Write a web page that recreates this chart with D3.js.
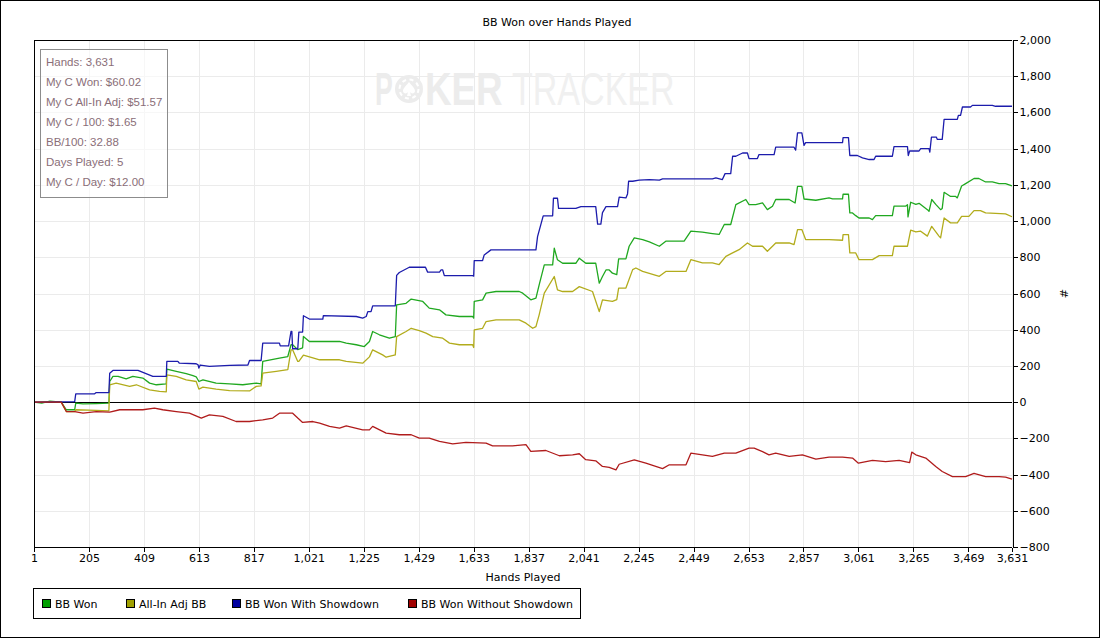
<!DOCTYPE html>
<html>
<head>
<meta charset="utf-8">
<script src="https://cdn.jsdelivr.net/npm/d3@7"></script>
<style>
  body { margin: 0; background: #fff; }
  svg text { font-family: 'DejaVu Sans', sans-serif; font-size: 11px; fill: #000; }
  .stats text { font-family: 'Liberation Sans', Arial, sans-serif; font-size: 11.5px; fill: #8a6e78; }
  .wm text { font-family: 'Liberation Sans', Arial, sans-serif; font-size: 46px; }
</style>
</head>
<body>
<div id="chart"></div>
<script>
// tick values for both axes
const xTicks = [1, 205, 409, 613, 817, 1021, 1225, 1429, 1633, 1837, 2041, 2245, 2449, 2653, 2857, 3061, 3265, 3469, 3631];
const yTicks = [-800, -600, -400, -200, 0, 200, 400, 600, 800, 1000, 1200, 1400, 1600, 1800, 2000];

const seriesNames = ['BB Won', 'All-In Adj BB', 'BB Won With Showdown', 'BB Won Without Showdown'];

const statLines = [
  'Hands: 3,631',
  'My C Won: $60.02',
  'My C All-In Adj: $51.57',
  'My C / 100: $1.65',
  'BB/100: 32.88',
  'Days Played: 5',
  'My C / Day: $12.00'
];

// [hand, bb]
const bbWon = [
  [1,0],[30,-5],[60,5],[102,0],[121,-42],[152,-42],[156,-5],[183,-10],[232,-8],[279,-5],[282,114],[294,142],[313,142],
  [343,128],[368,142],[405,133],[430,105],[455,96],[492,101],[494,182],[529,170],[566,157],[591,146],[603,140],[613,114],
  [628,123],[677,105],[727,101],[776,96],[826,105],[844,101],[850,225],[912,243],[943,252],[955,317],[961,317],[980,290],
  [998,300],[1001,363],[1023,335],[1073,335],[1135,335],[1160,326],[1197,317],[1227,307],[1246,335],[1258,390],[1283,372],
  [1320,353],[1342,362],[1347,537],[1382,546],[1401,569],[1444,556],[1468,519],[1506,510],[1530,482],[1580,473],[1629,473],
  [1633,464],[1635,556],[1666,565],[1679,602],[1716,611],[1802,611],[1815,602],[1845,565],[1864,574],[1876,648],[1895,758],
  [1926,758],[1932,850],[1944,786],[1963,767],[2012,767],[2025,795],[2049,767],[2086,767],[2099,657],[2111,694],[2124,730],
  [2136,730],[2148,712],[2164,704],[2171,791],[2198,791],[2210,861],[2229,907],[2260,898],[2285,885],[2322,861],[2346,889],
  [2414,889],[2439,944],[2482,939],[2519,931],[2544,926],[2563,981],[2587,981],[2606,1091],[2643,1119],[2655,1091],
  [2680,1091],[2705,1100],[2723,1063],[2742,1082],[2754,1119],[2804,1119],[2826,1100],[2835,1192],[2851,1192],[2859,1122],
  [2903,1115],[2952,1128],[2965,1123],[3002,1123],[3004,1148],[3024,1148],[3029,1045],[3039,1045],[3051,1030],[3063,1017],
  [3101,1017],[3113,1008],[3125,1030],[3187,1030],[3193,1083],[3237,1083],[3243,1090],[3245,1023],[3255,1104],[3274,1092],
  [3286,1098],[3317,1063],[3323,1054],[3333,1119],[3348,1092],[3366,1063],[3372,1070],[3379,1159],[3403,1136],[3422,1136],
  [3428,1128],[3444,1194],[3459,1207],[3490,1235],[3508,1235],[3533,1216],[3558,1216],[3583,1207],[3607,1207],[3631,1194]
];

const allInAdj = [
  [1,0],[60,3],[102,0],[121,-52],[152,-52],[156,-42],[232,-45],[279,-48],[282,96],[306,105],[356,87],[381,96],[430,68],
  [467,59],[492,57],[494,151],[529,142],[566,123],[603,114],[613,72],[628,83],[677,72],[727,64],[801,62],[826,87],[844,90],
  [850,160],[900,170],[943,179],[955,289],[961,289],[980,225],[984,225],[1001,260],[1036,245],[1061,234],[1135,234],
  [1160,225],[1221,215],[1246,250],[1258,289],[1295,261],[1308,248],[1342,261],[1347,362],[1382,390],[1401,408],[1431,395],
  [1456,381],[1481,362],[1518,353],[1543,326],[1580,317],[1629,317],[1633,302],[1635,399],[1666,408],[1679,445],[1716,454],
  [1802,454],[1827,436],[1852,408],[1864,417],[1876,482],[1895,602],[1932,694],[1944,620],[1963,611],[2000,611],[2025,638],
  [2074,611],[2099,500],[2111,565],[2148,556],[2164,566],[2171,630],[2198,630],[2223,732],[2235,741],[2260,722],[2322,695],
  [2346,722],[2421,722],[2439,787],[2482,769],[2519,769],[2544,760],[2569,805],[2594,824],[2618,842],[2649,879],[2668,861],
  [2705,861],[2723,833],[2742,861],[2754,879],[2804,879],[2822,870],[2835,953],[2851,953],[2865,898],[2952,898],[3002,894],
  [3004,925],[3024,925],[3029,824],[3051,824],[3063,787],[3113,787],[3138,809],[3187,809],[3193,861],[3243,861],[3255,950],
  [3274,940],[3292,944],[3317,917],[3333,971],[3360,917],[3366,907],[3379,1017],[3403,990],[3428,990],[3444,1026],
  [3471,1026],[3490,1058],[3514,1058],[3533,1045],[3607,1040],[3631,1024]
];

const withShowdown = [
  [1,0],[100,2],[152,3],[156,46],[226,46],[232,53],[279,53],[282,160],[294,175],[387,175],[442,142],[492,142],[494,225],
  [535,225],[540,216],[603,212],[610,206],[613,188],[618,205],[652,197],[727,203],[795,205],[801,230],[844,230],[850,326],
  [912,326],[915,311],[946,311],[955,391],[958,391],[961,295],[980,295],[984,387],[998,387],[1001,477],[1023,459],[1073,459],
  [1075,478],[1197,473],[1221,464],[1234,473],[1240,500],[1252,500],[1258,532],[1342,532],[1347,700],[1357,716],[1394,745],
  [1454,745],[1462,718],[1506,718],[1512,730],[1518,730],[1524,699],[1629,699],[1633,696],[1635,782],[1666,782],[1672,813],
  [1697,841],[1864,841],[1870,914],[1891,1029],[1926,1029],[1929,1126],[1944,1126],[1948,1070],[2012,1070],[2031,1080],
  [2086,1080],[2093,983],[2105,983],[2111,1047],[2124,1080],[2167,1080],[2173,1132],[2198,1128],[2204,1150],[2208,1220],
  [2223,1220],[2247,1226],[2285,1229],[2322,1226],[2334,1233],[2519,1233],[2532,1238],[2556,1229],[2566,1262],[2587,1262],
  [2594,1358],[2606,1358],[2631,1376],[2649,1376],[2655,1345],[2686,1345],[2692,1367],[2748,1367],[2754,1408],[2822,1408],
  [2828,1392],[2835,1487],[2851,1487],[2859,1418],[2865,1433],[3002,1433],[3004,1461],[3024,1461],[3029,1362],[3057,1362],
  [3076,1349],[3101,1340],[3119,1340],[3125,1358],[3187,1358],[3193,1411],[3243,1411],[3246,1362],[3251,1387],[3286,1387],
  [3292,1400],[3323,1400],[3326,1381],[3332,1464],[3350,1464],[3354,1451],[3372,1451],[3379,1562],[3428,1562],[3432,1584],
  [3440,1584],[3447,1630],[3477,1630],[3484,1639],[3558,1639],[3570,1634],[3631,1634]
];

const withoutShowdown = [
  [1,0],[60,0],[102,0],[121,-52],[152,-52],[183,-61],[232,-52],[282,-55],[319,-42],[405,-42],[448,-33],[479,-42],[529,-52],
  [578,-61],[622,-88],[652,-70],[702,-79],[751,-107],[801,-107],[850,-98],[887,-88],[912,-61],[961,-61],[980,-88],
  [998,-112],[1036,-107],[1061,-116],[1098,-134],[1135,-144],[1160,-131],[1221,-153],[1246,-153],[1258,-134],[1308,-171],
  [1357,-180],[1401,-180],[1431,-199],[1468,-199],[1506,-217],[1555,-230],[1604,-222],[1679,-226],[1703,-241],[1777,-241],
  [1827,-235],[1845,-272],[1901,-267],[1951,-296],[2000,-291],[2025,-285],[2049,-318],[2086,-324],[2111,-355],[2136,-360],
  [2161,-374],[2173,-343],[2229,-319],[2272,-337],[2334,-367],[2359,-346],[2421,-346],[2439,-282],[2482,-291],[2519,-300],
  [2563,-282],[2606,-282],[2655,-254],[2674,-254],[2705,-273],[2729,-291],[2754,-282],[2804,-300],[2853,-291],[2903,-315],
  [2952,-304],[3002,-304],[3039,-309],[3061,-337],[3113,-322],[3162,-328],[3212,-322],[3251,-334],[3259,-276],[3274,-291],
  [3311,-309],[3348,-356],[3372,-383],[3410,-411],[3459,-411],[3490,-393],[3533,-411],[3583,-411],[3607,-414],[3631,-425]
];

const allSeries = [bbWon, allInAdj, withShowdown, withoutShowdown];
const lineColors = ['#20a820', '#b2ac1c', '#1c1cac', '#b01c1c'];
const swatchColors = ['#00a000', '#a0a000', '#0000a0', '#a00000'];

const width = 1100;
const height = 638;
const plot = { left: 34, right: 1012, top: 40, bottom: 547 };

const svg = d3.select('#chart').append('svg')
  .attr('width', width)
  .attr('height', height);

// outer frame
svg.append('rect')
  .attr('x', 0.5).attr('y', 0.5)
  .attr('width', width - 1).attr('height', height - 1)
  .attr('fill', '#fff').attr('stroke', '#000');

const x = d3.scaleLinear().domain([1, 3631]).range([plot.left, plot.right]);
const y = d3.scaleLinear().domain([-800, 2000]).range([plot.bottom, plot.top]);

svg.append('text')
  .attr('x', (plot.left + plot.right) / 2 + 34)
  .attr('y', 26)
  .attr('text-anchor', 'middle')
  .text('BB Won over Hands Played');

// gridlines
const grid = svg.append('g').attr('stroke', '#ebebeb').attr('shape-rendering', 'crispEdges');
grid.selectAll('line.v').data(xTicks).join('line')
  .attr('class', 'v')
  .attr('x1', (d) => Math.round(x(d)) + 0.5).attr('x2', (d) => Math.round(x(d)) + 0.5)
  .attr('y1', plot.top).attr('y2', plot.bottom);
grid.selectAll('line.h').data(yTicks).join('line')
  .attr('class', 'h')
  .attr('x1', plot.left).attr('x2', plot.right)
  .attr('y1', (d) => Math.round(y(d)) + 0.5).attr('y2', (d) => Math.round(y(d)) + 0.5);

// watermark, the O is a poker chip; squeezed with scale so the boxes stay true
const wm = svg.append('g').attr('class', 'wm').style('pointer-events', 'none');
wm.append('text')
  .attr('transform', 'translate(375,105) scale(0.58,1)')
  .style('font-weight', 'bold').style('fill', '#ececec')
  .text('P');
wm.append('circle').attr('cx', 409).attr('cy', 89).attr('r', 14).attr('fill', '#ececec');
wm.append('circle').attr('cx', 409).attr('cy', 89).attr('r', 9.5).attr('fill', 'none')
  .attr('stroke', '#fff').attr('stroke-width', 2).attr('stroke-dasharray', '4 3.5');
wm.append('path')
  .attr('d', 'M409,82 C406,86 403,88 403,91 C403,94 407,94 408,92 L407,96 L411,96 L410,92 C411,94 415,94 415,91 C415,88 412,86 409,82 Z')
  .attr('fill', '#fff');
wm.append('text')
  .attr('transform', 'translate(425,105) scale(0.8,1)')
  .style('font-weight', 'bold').style('fill', '#ececec')
  .text('KER');
wm.append('text')
  .attr('transform', 'translate(512,105) scale(0.74,1)')
  .style('fill', '#f0f0f0')
  .text('TRACKER');

// zero line
svg.append('line')
  .attr('x1', plot.left).attr('x2', plot.right)
  .attr('y1', Math.round(y(0)) + 0.5).attr('y2', Math.round(y(0)) + 0.5)
  .attr('stroke', '#000').attr('shape-rendering', 'crispEdges');

// series
const line = d3.line().x((d) => x(d[0])).y((d) => y(d[1]));
svg.append('g').selectAll('path')
  .data(allSeries)
  .join('path')
  .attr('d', line)
  .attr('fill', 'none')
  .attr('stroke', (d, i) => lineColors[i])
  .attr('stroke-width', 1.3)
  .attr('stroke-linejoin', 'round');

// plot frame (top + left)
svg.append('path')
  .attr('d', `M${plot.left + 0.5},${plot.bottom}V${plot.top + 0.5}H${plot.right}`)
  .attr('fill', 'none').attr('stroke', '#000').attr('shape-rendering', 'crispEdges');

// axes
const xAxis = d3.axisBottom(x).tickValues(xTicks).tickSizeOuter(0).tickSize(4).tickPadding(3)
  .tickFormat(d3.format(','));
const gx = svg.append('g').attr('transform', `translate(0,${plot.bottom + 0.5})`).call(xAxis);

const yAxis = d3.axisRight(y).tickValues(yTicks).tickSizeOuter(0).tickSize(5).tickPadding(2)
  .tickFormat(d3.format(','));
const gy = svg.append('g').attr('transform', `translate(${plot.right + 0.5},0)`).call(yAxis);

[gx, gy].forEach((g) => {
  g.attr('font-family', null).attr('font-size', null);
  g.select('.domain').attr('stroke', '#000').attr('shape-rendering', 'crispEdges');
  g.selectAll('.tick line').attr('stroke', '#000').attr('shape-rendering', 'crispEdges');
  g.selectAll('.tick text').attr('fill', '#000');
});
gx.select('.domain').attr('d', `M${plot.left},0H${plot.right}`);

svg.append('text')
  .attr('x', (plot.left + plot.right) / 2)
  .attr('y', 581)
  .attr('text-anchor', 'middle')
  .text('Hands Played');

svg.append('text')
  .attr('transform', `translate(1060,${(plot.top + plot.bottom) / 2}) rotate(90)`)
  .attr('text-anchor', 'middle')
  .text('#');

// stats box
const stats = svg.append('g').attr('class', 'stats');
stats.append('rect')
  .attr('x', 40.5).attr('y', 49.5).attr('width', 127).attr('height', 148)
  .attr('fill', '#fff').attr('fill-opacity', 0.6).attr('stroke', '#8c8c8c');
stats.selectAll('text').data(statLines).join('text')
  .attr('x', 46)
  .attr('y', (d, i) => 66 + i * 20)
  .text((d) => d);

// legend
const legendX = [42, 126, 232, 408];
const legend = svg.append('g');
legend.append('rect')
  .attr('x', 33.5).attr('y', 588.5).attr('width', 547).attr('height', 30)
  .attr('fill', '#fff').attr('stroke', '#000');
const items = legend.selectAll('g.item').data(seriesNames).join('g')
  .attr('class', 'item')
  .attr('transform', (d, i) => `translate(${legendX[i]},599)`);
items.append('rect')
  .attr('x', 0.5).attr('y', 0.5).attr('width', 8).attr('height', 8)
  .attr('fill', (d, i) => swatchColors[i]).attr('stroke', '#000');
items.append('text')
  .attr('x', 13).attr('y', 9)
  .text((d) => d);
</script>
</body>
</html>
